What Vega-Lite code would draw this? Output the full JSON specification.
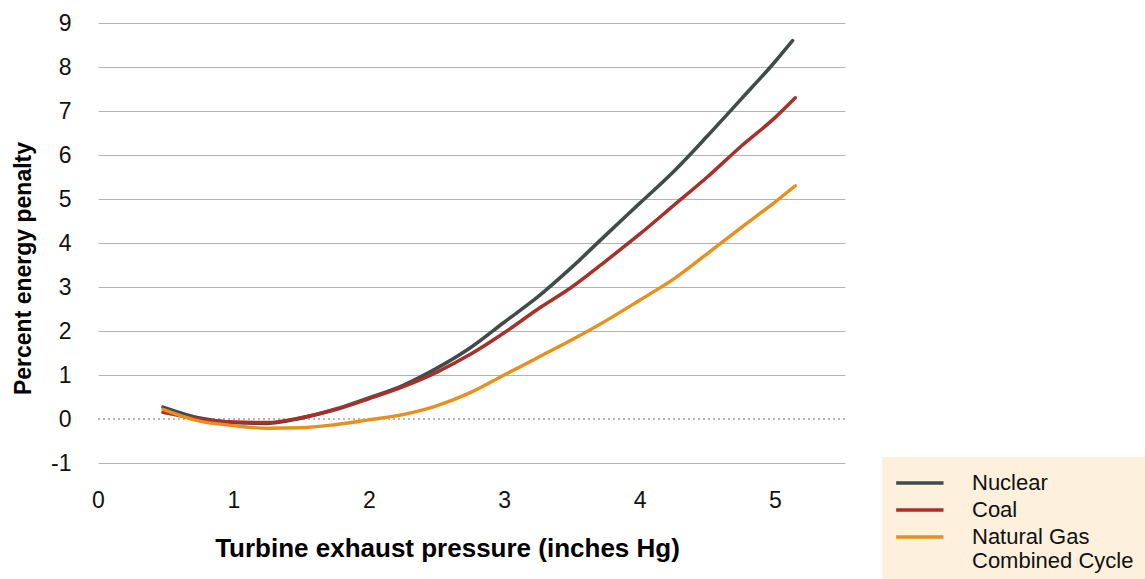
{
  "$schema": "https://vega.github.io/schema/vega-lite/v6.json",
  "autosize": {"type": "none"},
  "padding": {"left": 98, "top": 23, "right": 300, "bottom": 116},
  "width": 747,
  "height": 440,
  "background": "white",
  "config": {
    "view": {"stroke": null},
    "font": "Liberation Sans",
    "axis": {"labelFont": "Liberation Sans", "titleFont": "Liberation Sans"},
    "legend": {"labelFont": "Liberation Sans"}
  },
  "datasets": {
    "curves": [
      {"p": 0.48, "v": 0.27, "s": "Nuclear"},
      {"p": 0.75, "v": 0.02, "s": "Nuclear"},
      {"p": 1.0, "v": -0.08, "s": "Nuclear"},
      {"p": 1.25, "v": -0.1, "s": "Nuclear"},
      {"p": 1.5, "v": 0.02, "s": "Nuclear"},
      {"p": 1.75, "v": 0.22, "s": "Nuclear"},
      {"p": 2.0, "v": 0.48, "s": "Nuclear"},
      {"p": 2.25, "v": 0.76, "s": "Nuclear"},
      {"p": 2.5, "v": 1.15, "s": "Nuclear"},
      {"p": 2.75, "v": 1.62, "s": "Nuclear"},
      {"p": 3.0, "v": 2.2, "s": "Nuclear"},
      {"p": 3.25, "v": 2.78, "s": "Nuclear"},
      {"p": 3.5, "v": 3.45, "s": "Nuclear"},
      {"p": 3.75, "v": 4.18, "s": "Nuclear"},
      {"p": 4.0, "v": 4.9, "s": "Nuclear"},
      {"p": 4.25, "v": 5.62, "s": "Nuclear"},
      {"p": 4.5, "v": 6.43, "s": "Nuclear"},
      {"p": 4.75, "v": 7.27, "s": "Nuclear"},
      {"p": 5.0, "v": 8.12, "s": "Nuclear"},
      {"p": 5.13, "v": 8.6, "s": "Nuclear"},
      {"p": 0.48, "v": 0.15, "s": "Coal"},
      {"p": 0.75, "v": 0.0, "s": "Coal"},
      {"p": 1.0, "v": -0.07, "s": "Coal"},
      {"p": 1.25, "v": -0.08, "s": "Coal"},
      {"p": 1.5, "v": 0.03, "s": "Coal"},
      {"p": 1.75, "v": 0.21, "s": "Coal"},
      {"p": 2.0, "v": 0.46, "s": "Coal"},
      {"p": 2.25, "v": 0.73, "s": "Coal"},
      {"p": 2.5, "v": 1.06, "s": "Coal"},
      {"p": 2.75, "v": 1.47, "s": "Coal"},
      {"p": 3.0, "v": 1.96, "s": "Coal"},
      {"p": 3.25, "v": 2.5, "s": "Coal"},
      {"p": 3.5, "v": 3.0, "s": "Coal"},
      {"p": 3.75, "v": 3.59, "s": "Coal"},
      {"p": 4.0, "v": 4.2, "s": "Coal"},
      {"p": 4.25, "v": 4.85, "s": "Coal"},
      {"p": 4.5, "v": 5.5, "s": "Coal"},
      {"p": 4.75, "v": 6.2, "s": "Coal"},
      {"p": 5.0, "v": 6.85, "s": "Coal"},
      {"p": 5.15, "v": 7.3, "s": "Coal"},
      {"p": 0.48, "v": 0.22, "s": "Natural Gas Combined Cycle"},
      {"p": 0.75, "v": -0.05, "s": "Natural Gas Combined Cycle"},
      {"p": 1.0, "v": -0.15, "s": "Natural Gas Combined Cycle"},
      {"p": 1.25, "v": -0.21, "s": "Natural Gas Combined Cycle"},
      {"p": 1.5, "v": -0.2, "s": "Natural Gas Combined Cycle"},
      {"p": 1.75, "v": -0.13, "s": "Natural Gas Combined Cycle"},
      {"p": 2.0, "v": -0.02, "s": "Natural Gas Combined Cycle"},
      {"p": 2.25, "v": 0.1, "s": "Natural Gas Combined Cycle"},
      {"p": 2.5, "v": 0.3, "s": "Natural Gas Combined Cycle"},
      {"p": 2.75, "v": 0.6, "s": "Natural Gas Combined Cycle"},
      {"p": 3.0, "v": 1.0, "s": "Natural Gas Combined Cycle"},
      {"p": 3.25, "v": 1.4, "s": "Natural Gas Combined Cycle"},
      {"p": 3.5, "v": 1.8, "s": "Natural Gas Combined Cycle"},
      {"p": 3.75, "v": 2.23, "s": "Natural Gas Combined Cycle"},
      {"p": 4.0, "v": 2.7, "s": "Natural Gas Combined Cycle"},
      {"p": 4.25, "v": 3.18, "s": "Natural Gas Combined Cycle"},
      {"p": 4.5, "v": 3.76, "s": "Natural Gas Combined Cycle"},
      {"p": 4.75, "v": 4.35, "s": "Natural Gas Combined Cycle"},
      {"p": 5.0, "v": 4.93, "s": "Natural Gas Combined Cycle"},
      {"p": 5.15, "v": 5.3, "s": "Natural Gas Combined Cycle"}
    ],
    "zero": [{"v": 0}]
  },
  "layer": [
    {
      "data": {"name": "zero"},
      "mark": {"type": "rule", "color": "#a0a0a0", "strokeWidth": 1.3, "strokeDash": [2, 3]},
      "encoding": {
        "y": {"field": "v", "type": "quantitative", "scale": {"domain": [-1, 9], "nice": false}}
      }
    },
    {
      "data": {"name": "curves"},
      "mark": {"type": "line", "interpolate": "monotone", "strokeCap": "round"},
      "encoding": {
        "x": {
          "field": "p", "type": "quantitative",
          "scale": {"domain": [0, 5.517], "nice": false, "zero": false},
          "axis": {
            "values": [0, 1, 2, 3, 4, 5],
            "grid": false, "domain": false, "ticks": false,
            "labelFlush": false,
            "labelFontSize": 23, "labelColor": "#111", "labelPadding": 26,
            "title": "Turbine exhaust pressure (inches Hg)",
            "titleFontSize": 26, "titleFontWeight": "bold", "titleColor": "#000",
            "titleX": 349, "titleY": 85, "titleBaseline": "middle", "titleAlign": "center"
          }
        },
        "y": {
          "field": "v", "type": "quantitative",
          "scale": {"domain": [-1, 9], "nice": false, "zero": false},
          "axis": {
            "values": [-1, 0, 1, 2, 3, 4, 5, 6, 7, 8, 9],
            "labelExpr": "datum.value < 0 ? '-' + abs(datum.value) : datum.label",
            "grid": true,
            "gridColor": {"condition": {"test": "datum.value === 0", "value": "transparent"}, "value": "#b3b3b3"},
            "gridWidth": 1.2,
            "domain": false, "ticks": false,
            "labelFontSize": 23, "labelColor": "#111", "labelPadding": 27,
            "title": "Percent energy penalty",
            "titleFontSize": 23, "titleFontWeight": "bold", "titleColor": "#000",
            "titleX": -75, "titleY": 245, "titleBaseline": "middle", "titleAlign": "center", "titleAngle": -90
          }
        },
        "color": {
          "field": "s", "type": "nominal",
          "scale": {
            "domain": ["Nuclear", "Coal", "Natural Gas Combined Cycle"],
            "range": ["#434a4a", "#a8302b", "#e98f1d"]
          },
          "legend": {
            "title": null,
            "orient": "none",
            "legendX": 784,
            "legendY": 434,
            "fillColor": "#fdf0dc",
            "padding": 12,
            "symbolType": "M-1,0H3",
            "symbolSize": 560,
            "symbolStrokeWidth": 2.5,
            "labelFontSize": 22,
            "labelColor": "#111",
            "labelOffset": 50,
            "labelLimit": 300,
            "rowPadding": 2,
            "labelExpr": "datum.label == 'Natural Gas Combined Cycle' ? ['Natural Gas', 'Combined Cycle'] : datum.label"
          }
        },
        "strokeWidth": {
          "field": "s", "type": "nominal",
          "scale": {
            "domain": ["Nuclear", "Coal", "Natural Gas Combined Cycle"],
            "range": [3.6, 3.4, 2.6]
          },
          "legend": null
        }
      }
    }
  ]
}
